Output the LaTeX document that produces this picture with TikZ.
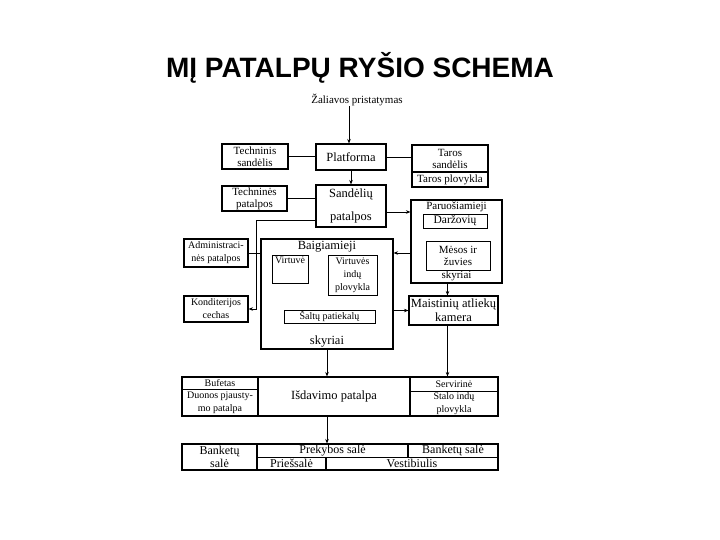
\documentclass[tikz,border=0pt]{standalone}
\usepackage{fontspec}
\setmainfont{Liberation Serif}
\newfontfamily\titlefont{Liberation Sans}
\usepackage{tikz}
\usetikzlibrary{arrows.meta,positioning}

\tikzset{
  box/.style={draw,line width=1.1pt,inner sep=0pt,align=center,
    font=\fontsize{11}{12}\selectfont},
  inbox/.style={box,line width=0.8pt},
  lbl/.style={inner sep=0pt,align=center,font=\fontsize{11}{12}\selectfont},
  big/.style={font=\fontsize{12.5}{14}\selectfont},
  hall/.style={font=\fontsize{12}{13}\selectfont},
  small/.style={font=\fontsize{10}{13}\selectfont},
  lnk/.style={line width=0.7pt},
  arr/.style={lnk,-{Stealth[length=4.5pt,width=3.5pt]}}
}

\begin{document}
\begin{tikzpicture}[x=1pt,y=-1pt]
\useasboundingbox (0,0) rectangle (720,540);
\node[font=\titlefont\bfseries\fontsize{28}{32}\selectfont] (title) at (360,68) {MĮ PATALPŲ RYŠIO SCHEMA};
\node[lbl] (zal) at (357,100) {Žaliavos pristatymas};
% upper row: storage
\node[box,minimum width=66,minimum height=25] (tsand) at (255,156.5) {Techninis\\sandėlis};
\node[box,minimum width=70,minimum height=26,big] (plat) at (351,157) {Platforma};
\node[box,minimum width=76,minimum height=27] (tarsand) at (450,158.5) {Taros\\sandėlis};
\node[box,minimum width=76,minimum height=15] (tarplov) at (450,179.5) {Taros plovykla};
\node[box,minimum width=65,minimum height=25] (tpat) at (254.5,198.5) {Techninės\\patalpos};
\node[box,minimum width=70,minimum height=42,big] (sandp) at (351,206) {Sandėlių\\[9pt]patalpos};
% preparation
\node[box,minimum width=91,minimum height=83] (paru) at (456.5,241.5) {};
\node[lbl,below=2pt of paru.north] (parut) {Paruošiamieji};
\node[inbox,minimum width=64,minimum height=14,font=\fontsize{11.5}{13}\selectfont] (darz) at (455,221) {Daržovių};
\node[inbox,minimum width=64,minimum height=29] (mes) at (458,255.5) {Mėsos ir\\žuvies};
\node[lbl,above=2pt of paru.south] (parus) {skyriai};
% final kitchen
\node[box,minimum width=64,minimum height=28,small] (adm) at (216,253) {Administraci-\\nės patalpos};
\node[box,minimum width=64,minimum height=26,small] (kond) at (216,309) {Konditerijos\\cechas};
\node[box,minimum width=132,minimum height=110] (baig) at (327,294) {};
\node[lbl,big,below=3pt of baig.north] (baigt) {Baigiamieji};
\node[lbl,big,above=2pt of baig.south] (baigs) {skyriai};
\node[inbox,minimum width=36,minimum height=28] (virt) at (290,269) {};
\node[lbl,small,below=2pt of virt.north] (virtt) {Virtuvė};
\node[inbox,minimum width=49,minimum height=40,small] (vplov) at (352.5,275) {Virtuvės\\indų\\plovykla};
\node[inbox,minimum width=91,minimum height=13,small] (salt) at (329.5,316.5) {Šaltų patiekalų};
\node[box,minimum width=89,minimum height=29,big] (mait) at (453.5,310.5) {Maistinių atliekų\\kamera};
% serving row
\node[box,minimum width=76,minimum height=12.5,small] (bufet) at (220,383.25) {Bufetas};
\node[box,minimum width=76,minimum height=26.5,small] (duon) at (220,402.75) {Duonos pjausty-\\mo patalpa};
\node[box,minimum width=152,minimum height=39,big] (isd) at (334,396.5) {Išdavimo patalpa};
\node[box,minimum width=88,minimum height=14.5,small] (serv) at (454,384.25) {Servirinė};
\node[box,minimum width=88,minimum height=24.5,small] (stal) at (454,403.75) {Stalo indų\\plovykla};
% halls
\node[box,minimum width=75,minimum height=26,hall] (bank) at (219.5,457) {Banketų\\salė};
\node[box,minimum width=151,minimum height=13.5,hall] (prek) at (332.5,450.75) {Prekybos salė};
\node[box,minimum width=90,minimum height=13.5,hall] (bankr) at (453,450.75) {Banketų salė};
\node[box,minimum width=69,minimum height=12.5,hall] (pries) at (291.5,463.75) {Priešsalė};
\node[box,minimum width=172,minimum height=12.5,hall] (vest) at (412,463.75) {Vestibiulis};
% connections
\draw[arr] (zal.south -| 349,0) -- (plat.north -| 349,0);
\draw[lnk] (tsand.east) -- (tsand.east -| plat.west);
\draw[lnk] (plat.east) -- (plat.east -| tarsand.west);
\draw[arr] (plat.south) -- (sandp.north);
\draw[lnk] (tpat.east) -- (tpat.east -| sandp.west);
\draw[arr] ([yshift=-6pt]sandp.east) -- ([yshift=-6pt]sandp.east -| paru.west);
\draw[arr] ([yshift=-14pt]sandp.west) -| ([xshift=8pt]kond.east) -- (kond.east);
\draw[lnk] (adm.east) -- (adm.east -| baig.west);
\draw[arr] (adm -| paru.west) -- (adm -| baig.east);
\draw[arr] ([xshift=-6pt]mait.north |- paru.south) -- ([xshift=-6pt]mait.north);
\draw[arr] (baig.east |- mait) -- (mait.west);
\draw[arr] (baig.south) -- (baig.south |- isd.north);
\draw[arr] ([xshift=-6pt]mait.south) -- ([xshift=-6pt]mait.south |- serv.north);
\draw[arr] (baig.south |- isd.south) -- (baig.south |- prek.north);
\end{tikzpicture}
\end{document}
